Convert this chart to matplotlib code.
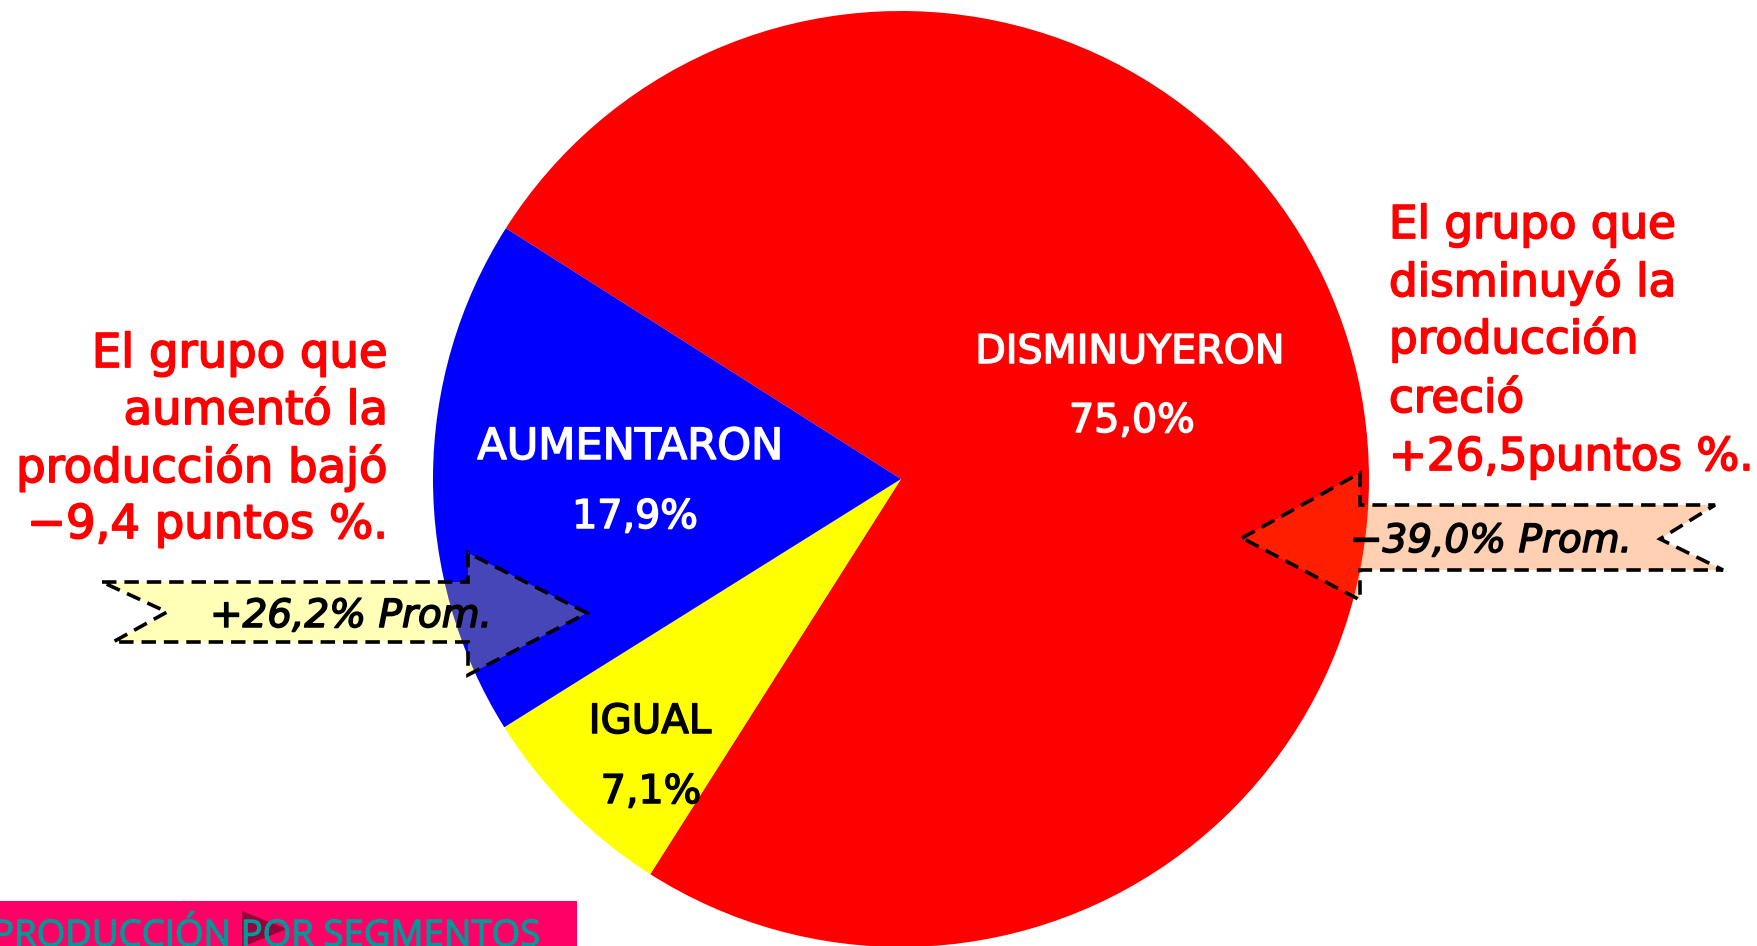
import matplotlib
matplotlib.use('Agg')
import matplotlib.pyplot as plt
import matplotlib.patheffects as pe
from matplotlib.patches import Polygon, Rectangle

W, H = 1757, 946

# datos
segmentos = ['DISMINUYERON', 'IGUAL', 'AUMENTARON']
porcentajes = [75.0, 7.1, 17.9]
etiquetas_pct = ['75,0%', '7,1%', '17,9%']
colores = ['#ff0000', '#ffff00', '#0000ff']
color_texto = ['white', 'black', 'white']

texto_izq = ['El grupo que', 'aumentó la', 'producción bajó', '−9,4 puntos %.']
texto_der = ['El grupo que', 'disminuyó la', 'producción', 'creció', '+26,5puntos %.']
prom_aumentaron = '+26,2% Prom.'
prom_disminuyeron = '−39,0% Prom.'
titulo = 'PRODUCCIÓN POR SEGMENTOS'

plt.rcParams['font.family'] = ['DejaVu Sans']


def p(x, y):
    # pixel coords (y down) -> data coords (y up)
    return (x, H - y)


def grueso(c, lw=1.1):
    return [pe.withStroke(linewidth=lw, foreground=c)]


fig = plt.figure(figsize=(W / 100, H / 100), dpi=100)
ax = fig.add_axes([0, 0, 1, 1])

ax.pie(porcentajes, colors=colores, startangle=147.6, counterclock=False,
       center=p(901, 479), radius=468, wedgeprops=dict(linewidth=0))
ax.set_xlim(0, W)
ax.set_ylim(0, H)
ax.set_aspect('equal')
ax.axis('off')

# etiquetas dentro de las porciones
pos_nombre = [(1130, 363, 28.5), (650, 733, 29), (630, 459, 31)]
pos_pct = [(1132, 432), (651, 803), (635, 528)]
for i in range(len(segmentos)):
    x, y, fs = pos_nombre[i]
    ax.text(*p(x, y), segmentos[i], color=color_texto[i], fontsize=fs,
            ha='center', va='baseline', zorder=5,
            path_effects=grueso(color_texto[i]))
    ax.text(*p(*pos_pct[i]), etiquetas_pct[i], color=color_texto[i],
            fontsize=28.5, ha='center', va='baseline', zorder=5,
            path_effects=grueso(color_texto[i]))

# flechas con promedio
flecha_izq = [(102, 582), (468, 582), (468, 553), (587, 613), (468, 675),
              (468, 642), (113, 642), (167, 612)]
flecha_der = [(1242, 538), (1360, 473), (1360, 505), (1715, 505), (1660, 539),
              (1723, 570), (1360, 570), (1360, 600)]
ax.add_patch(Polygon([p(*q) for q in flecha_izq], closed=True,
                     facecolor=(1, 1, 0, 0.28), edgecolor='black',
                     linewidth=2.6, linestyle=(0, (4, 2.2)), zorder=3))
ax.add_patch(Polygon([p(*q) for q in flecha_der], closed=True,
                     facecolor=(1, 0.4, 0, 0.3), edgecolor='black',
                     linewidth=2.6, linestyle=(0, (4, 2.2)), zorder=3))
ax.text(*p(210, 627), prom_aumentaron, fontsize=28, style='italic',
        ha='left', va='baseline', zorder=6, path_effects=grueso('black'))
ax.text(*p(1350, 552), prom_disminuyeron, fontsize=28, style='italic',
        ha='left', va='baseline', zorder=6, path_effects=grueso('black'))

# textos rojos
for txt, y in zip(texto_izq, [367, 424, 482, 538]):
    ax.text(*p(388, y), txt, color='#ff0000', fontsize=33.5,
            ha='right', va='baseline', path_effects=grueso('#ff0000', 1.3))
for txt, y in zip(texto_der, [238, 296, 353, 412, 470]):
    ax.text(*p(1389, y), txt, color='#ff0000', fontsize=32.5,
            ha='left', va='baseline', path_effects=grueso('#ff0000', 1.3))

# banda inferior
ax.add_patch(Rectangle(p(0, 946), 577, 45, facecolor='#ff0066',
                       edgecolor='none', zorder=4))
ax.add_patch(Polygon([p(242, 911), p(287, 929), p(242, 947)], closed=True,
                     facecolor='#99003a', edgecolor='none', zorder=4))
ax.text(*p(-8, 946), titulo, color='#009999', fontsize=26.4,
        family=['Open Sans', 'DejaVu Sans'], ha='left', va='baseline',
        zorder=5, path_effects=grueso('#009999', 0.8))

fig.savefig('out.png', dpi=100)
